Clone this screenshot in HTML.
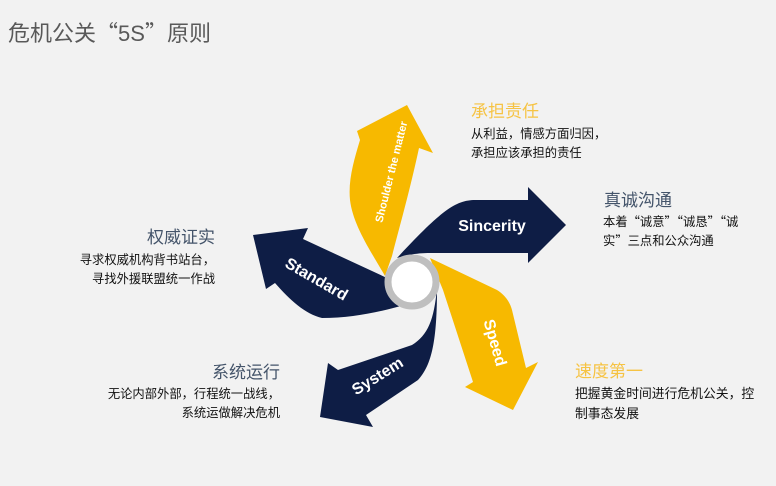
<!DOCTYPE html>
<html><head><meta charset="utf-8"><style>
html,body{margin:0;padding:0;background:#f2f2f2;}
svg{display:block}
text{font-family:"Liberation Sans","Noto Sans CJK SC",sans-serif;}
.q{font-family:"Noto Sans CJK SC",sans-serif;}
</style></head><body>
<svg width="776" height="486" viewBox="0 0 776 486" xmlns="http://www.w3.org/2000/svg">
<rect width="776" height="486" fill="#f2f2f2"/>
<text x="8" y="41" font-size="22" fill="#595959">危机公关<tspan class="q">“</tspan>5S<tspan class="q">”</tspan>原则</text>

<path d="M407,105 L433,153 L419,148 C410,190 400,225 392,256 L385,276 C370,250 353,225 350,200 C348,180 354,160 360,140 L357,131 Z" fill="#f7b900"/>
<path d="M566,225 L528,187 L528,200 L475,200 C455,200 440,212 397,258 C410,254 420,253 430,253 L528,253 L528,263 Z" fill="#0e1d45"/>
<path d="M430,258 L497,290 C505,295 510,302 512,310 L526,368 L538,362 L513,410 L465,387 L473,382 L443,290 Z" fill="#f7b900"/>
<path d="M437,288 C434,320 428,335 412,345 L338,370 L328,363 L320,417 L373,427 L366,415 L418,380 C432,365 437,340 437,288 Z" fill="#0e1d45"/>
<path d="M253,235 L308,228 L303,239 L387,278 L404,305 C380,312 352,318 322,318 C305,314 290,300 275,283 L266,289 Z" fill="#0e1d45"/>

<circle cx="412" cy="282" r="24" fill="#fff" stroke="#bfbfbf" stroke-width="7"/>

<text transform="translate(392,172) rotate(-76)" font-size="11" font-weight="bold" fill="#fff" text-anchor="middle" dominant-baseline="middle">Shoulder the matter</text>
<text x="492" y="227" font-size="16" font-weight="bold" fill="#fff" text-anchor="middle" dominant-baseline="middle">Sincerity</text>
<text transform="translate(316,280) rotate(30)" font-size="16" font-weight="bold" fill="#fff" text-anchor="middle" dominant-baseline="middle">Standard</text>
<text transform="translate(494,343) rotate(74)" font-size="16" font-weight="bold" fill="#fff" text-anchor="middle" dominant-baseline="middle">Speed</text>
<text transform="translate(378,377) rotate(-32)" font-size="16" font-weight="bold" fill="#fff" text-anchor="middle" dominant-baseline="middle">System</text>

<g font-size="12.3" fill="#111">
<text x="471" y="117" font-size="17" fill="#f6c343">承担责任</text>
<text x="471" y="138">从利益，情感方面归因，</text>
<text x="471" y="157">承担应该承担的责任</text>

<text x="604" y="206" font-size="17" fill="#44546a">真诚沟通</text>
<text x="603" y="226">本着<tspan class="q">“</tspan>诚意<tspan class="q">”“</tspan>诚恳<tspan class="q">”“</tspan>诚</text>
<text x="603" y="245">实<tspan class="q">”</tspan>三点和公众沟通</text>

<text x="215" y="243" font-size="17" fill="#44546a" text-anchor="end">权威证实</text>
<text x="215" y="264" text-anchor="end">寻求权威机构背书站台，</text>
<text x="215" y="283" text-anchor="end">寻找外援联盟统一作战</text>

<text x="280" y="378" font-size="17" fill="#44546a" text-anchor="end">系统运行</text>
<text x="280" y="398" text-anchor="end">无论内部外部，行程统一战线，</text>
<text x="280" y="417" text-anchor="end">系统运做解决危机</text>

<text x="575" y="377" font-size="17" fill="#f6c343">速度第一</text>
<text x="575" y="398" font-size="12.8">把握黄金时间进行危机公关，控</text>
<text x="575" y="418" font-size="12.8">制事态发展</text>
</g>
</svg>
</body></html>
